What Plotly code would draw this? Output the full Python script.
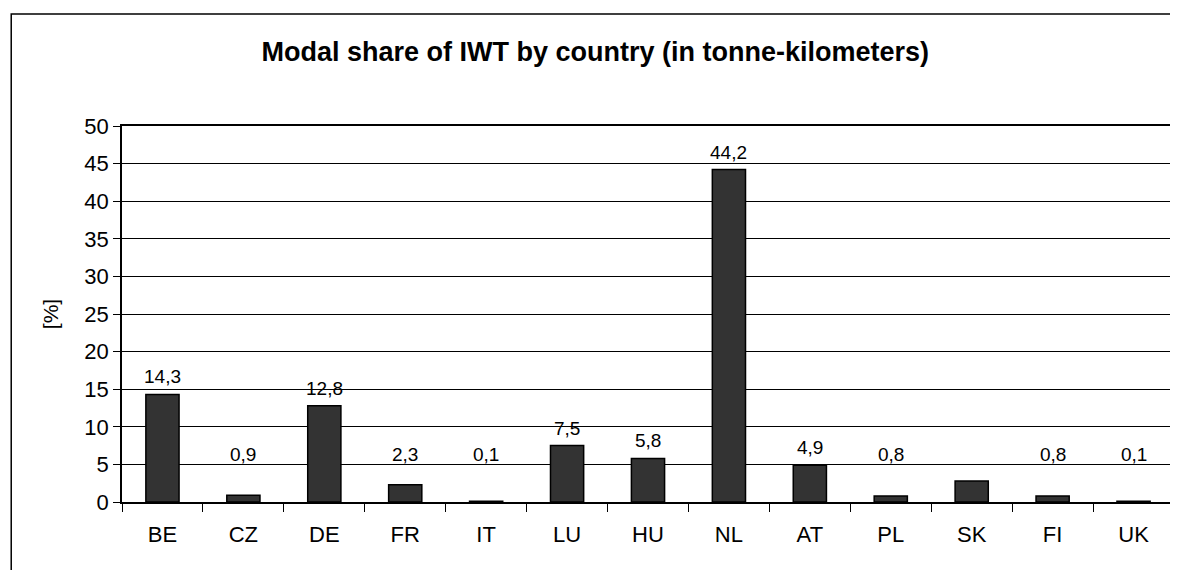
import plotly.graph_objects as go

countries = ["BE", "CZ", "DE", "FR", "IT", "LU", "HU", "NL", "AT", "PL", "SK", "FI", "UK"]
share = [14.3, 0.9, 12.8, 2.3, 0.1, 7.5, 5.8, 44.2, 4.9, 0.8, 2.8, 0.8, 0.1]
labels = ["14,3", "0,9", "12,8", "2,3", "0,1", "7,5", "5,8", "44,2", "4,9", "0,8", "", "0,8", "0,1"]
y_ticks = [0, 5, 10, 15, 20, 25, 30, 35, 40, 45, 50]

FONT = "Liberation Sans, Arial"

fig = go.Figure()
fig.add_trace(go.Bar(
    x=countries, y=share,
    marker=dict(color="#333333", line=dict(color="#000000", width=1.5)),
    width=0.41,
    hoverinfo="x+y",
))

# value labels above bars (small bars get a minimum height like the original)
for c, v, t in zip(countries, share, labels):
    if t:
        fig.add_annotation(
            x=c, y=max(v, 4), text=t, showarrow=False,
            yanchor="bottom", yshift=5,
            font=dict(family=FONT, size=19, color="#000000"),
        )

# outer chart frame
fig.add_shape(
    type="rect", xref="paper", yref="paper",
    x0=-0.1053, x1=1.02, y0=-0.25, y1=1.298,
    line=dict(color="#000000", width=1.5), layer="below",
)

# the page adds an 8px body margin, so the figure is shrunk by that much
fig.update_layout(
    width=1170, height=562,
    margin=dict(l=114, r=2, t=118, b=68),
    paper_bgcolor="white", plot_bgcolor="white",
    showlegend=False,
    font=dict(family=FONT, size=22, color="#000000"),
    title=dict(
        text="<b>Modal share of IWT by country (in tonne-kilometers)</b>",
        x=0.502, xref="container", xanchor="center",
        y=0.922, yanchor="middle",
        font=dict(family=FONT, size=27, color="#000000"),
    ),
    xaxis=dict(
        showline=True, linecolor="#000000", linewidth=2,
        ticks="outside", tickson="boundaries", ticklen=8, tickcolor="#000000",
        showgrid=False, tickfont=dict(size=22), ticklabelstandoff=12,
    ),
    yaxis=dict(
        range=[0, 50], tickvals=y_ticks,
        showline=True, linecolor="#000000", linewidth=1.5,
        ticks="outside", ticklen=7, tickcolor="#000000",
        showgrid=True, gridcolor="#000000", gridwidth=1,
        zeroline=False, mirror=True,
        title=dict(text="[%]", font=dict(size=21), standoff=20),
        tickfont=dict(size=22),
    ),
)
fig.update_xaxes(mirror=True)

fig.write_html("out.html")
